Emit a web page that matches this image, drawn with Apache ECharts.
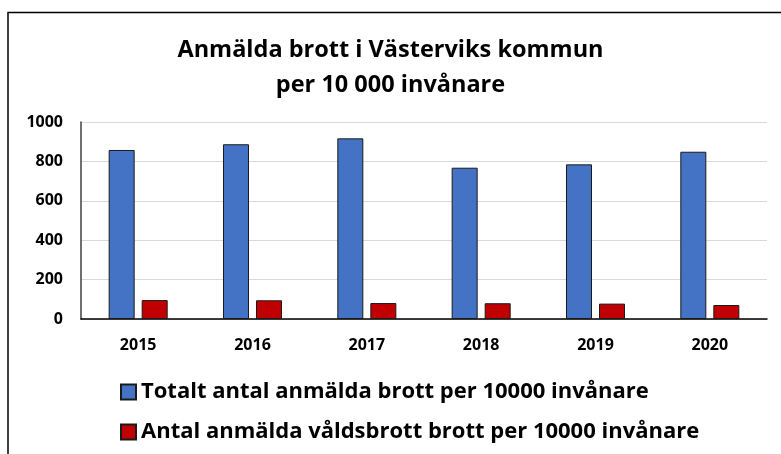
<!DOCTYPE html>
<html>
<head>
<meta charset="utf-8">
<script src="https://cdn.jsdelivr.net/npm/echarts@6/dist/echarts.min.js"></script>
<style>
  html, body { margin: 0; padding: 0; background: #fff; }
  #chart { width: 781px; height: 454px; }
</style>
</head>
<body>
<div id="chart"></div>
<script>
const years = ["2015", "2016", "2017", "2018", "2019", "2020"];
const totalCrimes = [858, 887, 917, 768, 785, 849];
const violentCrimes = [96, 95, 81, 80, 78, 71];
const seriesNames = [
  "Totalt antal anmälda brott per 10000 invånare",
  "Antal anmälda våldsbrott brott per 10000 invånare",
];

const font = "Open Sans";
let myChart = echarts.init(document.getElementById("chart"));

let option = {
  animation: false,
  backgroundColor: "#fff",
  textStyle: { fontFamily: font },
  title: {
    text: "Anmälda brott i Västerviks kommun\nper 10 000 invånare",
    left: "center",
    top: 28,
    textStyle: {
      fontFamily: font,
      fontSize: 23.5,
      fontWeight: "bold",
      color: "#000",
      lineHeight: 35,
    },
  },
  legend: {
    orient: "vertical",
    left: 115,
    top: 376,
    itemGap: 18,
    itemWidth: 15,
    itemHeight: 15,
    icon: "rect",
    data: seriesNames,
    textStyle: { fontFamily: font, fontSize: 22, fontWeight: "bold", color: "#000" },
  },
  grid: { left: 81, right: 14, top: 122, bottom: 135 },
  xAxis: {
    type: "category",
    data: years,
    axisLine: { lineStyle: { color: "#000", width: 1.5 } },
    axisTick: { show: false },
    axisLabel: { margin: 18, fontSize: 16, fontWeight: "bold", color: "#000" },
  },
  yAxis: {
    type: "value",
    min: 0,
    max: 1000,
    interval: 200,
    axisLine: { show: true, lineStyle: { color: "#404040", width: 1.5 } },
    axisTick: { show: false },
    splitLine: { lineStyle: { color: "#d9d9d9", width: 1 } },
    axisLabel: {
      margin: 18,
      fontSize: 16,
      fontWeight: "bold",
      color: "#000",
      formatter: (v) => String(v),
    },
  },
  graphic: [
    {
      type: "polyline",
      shape: { points: [[8, 454], [8, 12.5], [781, 12.5]] },
      style: { stroke: "#000", lineWidth: 1.5, fill: null },
    },
  ],
  series: [
    {
      name: seriesNames[0],
      type: "bar",
      data: totalCrimes,
      barWidth: 26,
      barGap: "27%",
      itemStyle: { color: "#4472c4", borderColor: "#1a1a1a", borderWidth: 1 },
    },
    {
      name: seriesNames[1],
      type: "bar",
      data: violentCrimes,
      barWidth: 26,
      barGap: "27%",
      itemStyle: { color: "#c00000", borderColor: "#1a1a1a", borderWidth: 1 },
    },
  ],
};

option && myChart.setOption(option);
</script>
</body>
</html>
